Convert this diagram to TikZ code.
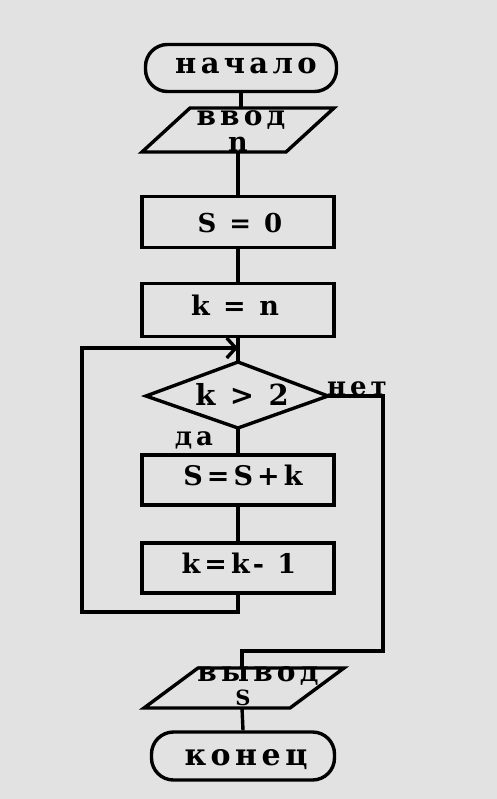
\documentclass[tikz,border=0pt]{standalone}
\usepackage{fontspec}
\newfontfamily\flow[LetterSpace=15]{DejaVu Serif}
\usetikzlibrary{arrows.meta,calc}
\definecolor{bg}{RGB}{226,226,226}
\begin{document}
\begin{tikzpicture}[x=1pt,y=-1pt,
  ln/.style={line width=3.4pt, draw=black},
  txt/.style={font=\fontsize{#1}{#1}\selectfont\flow\bfseries, inner sep=0pt, anchor=base},
  txt/.default=27,
  box/.style={ln, rectangle, minimum width=192pt, inner sep=0pt},
  term/.style={ln, rectangle, rounded corners=22pt, inner sep=0pt},
  tip/.style={-{Straight Barb[length=9pt,width=20pt,line width=3.4pt]}}
]
\fill[bg] (0,0) rectangle (497,799);
\useasboundingbox (0,0) rectangle (497,799);

% start
\node[term, minimum width=191pt, minimum height=47pt] (start) at (241,68) {};
\node[txt=29] (startT) at (246,74) {начало};

% input parallelogram
\coordinate (iTL) at (190,108);
\coordinate (iTR) at (334,108);
\coordinate (iBR) at (286,152);
\coordinate (iBL) at (142,152);
\coordinate (iT) at (241,108);
\coordinate (iB) at (238,152);
\draw[ln, line join=miter] (iTL) -- (iTR) -- (iBR) -- (iBL) -- cycle;
\node[txt=28] (inA) at (241,126) {ввод};
\node[txt=27] (inB) at (238,152) {n};

% boxes
\node[box, minimum height=51pt] (s0) at (238,222) {};
\node[txt=26] (s0T) at (240,233) {S = 0};
\node[box, minimum height=53pt] (kn) at (238,310) {};
\node[txt=27] (knT) at (235,315) {k = n};

% decision
\coordinate (dT) at (238,362);
\coordinate (dB) at (238,428);
\coordinate (dL) at (146,396);
\coordinate (dR) at (328,396);
\draw[ln, line join=miter] (dT) -- (dR) -- (dB) -- (dL) -- cycle;
\node[txt=29] (dec) at (242,405) {k > 2};
\node[txt=26, anchor=base west] (net) at (327,395) {нет};
\node[txt=26] (da) at (194,445) {да};

\node[box, minimum height=50pt] (ssk) at (238,480) {};
\node[txt=27] (sskT) at (243,485) {S=S+k};
\node[box, minimum height=50pt] (kk) at (238,568) {};
\node[txt=27] (kkT) at (239,573) {k=k- 1};

% output parallelogram
\coordinate (oTL) at (198,668);
\coordinate (oTR) at (344,668);
\coordinate (oBR) at (290,708);
\coordinate (oBL) at (144,708);
\coordinate (oT) at (242,668);
\coordinate (oB) at (242,708);
\draw[ln, line join=miter] (oTL) -- (oTR) -- (oBR) -- (oBL) -- cycle;
\node[txt=28] (outA) at (258,681) {вывод};
\node[txt=21] (outB) at (243,705) {S};

% end
\node[term, minimum width=183pt, minimum height=48pt] (stop) at (243,756) {};
\node[txt=30] (stopT) at (246,765) {конец};

% connectors
\coordinate (join) at (238,348);
\draw[ln] (start.south) -- (iT);
\draw[ln] (iB) -- (s0.north);
\draw[ln] (s0.south) -- (kn.north);
\draw[ln] (kn.south) -- (dT);
\draw[ln] (dB) -- (ssk.north);
\draw[ln] (ssk.south) -- (kk.north);
\draw[ln, tip] (kk.south) -- (238,612) -- (82,612) -- (82,348) -- (join);
\draw[ln] (dR) -- (383,396) -- (383,651) -- (242,651) -- (oT);
\draw[ln] (oB) -- (stop.north);
\end{tikzpicture}
\end{document}
